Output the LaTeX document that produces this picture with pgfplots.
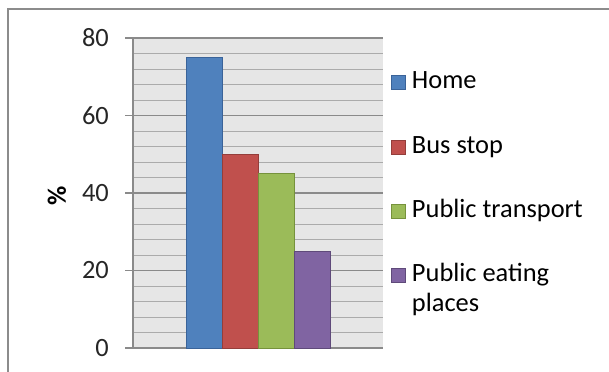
\documentclass[border=0pt]{standalone}
\usepackage{pgfplots}
\pgfplotsset{compat=1.18}
\usepackage{fontspec}
\setmainfont{Carlito}
\definecolor{cblue}{HTML}{4F81BD}
\definecolor{cblued}{HTML}{3A6399}
\definecolor{cred}{HTML}{C0504D}
\definecolor{credd}{HTML}{943E3B}
\definecolor{cgreen}{HTML}{9BBB59}
\definecolor{cgreend}{HTML}{76923C}
\definecolor{cpurple}{HTML}{8064A2}
\definecolor{cpurpled}{HTML}{5F4A7A}
\definecolor{plotbg}{HTML}{E6E6E6}
\definecolor{gmaj}{HTML}{8A8A8A}
\definecolor{gmin}{HTML}{ABABAB}
\definecolor{bordergray}{HTML}{8C8C8C}
\begin{document}
\fontsize{26.5}{31}\selectfont
\begin{tikzpicture}[x=1bp,y=1bp]
\useasboundingbox (0,0) rectangle (609,371);
\begin{scope}
\clip (0,0) rectangle (609,371);
\draw[bordergray, line width=2bp] (8,-20) -- (8,362) -- (640,362);
\end{scope}
\begin{axis}[
  at={(133bp,23bp)}, anchor=south west,
  width=250bp, height=310bp, scale only axis,
  ymin=0, ymax=80, xmin=-1, xmax=1,
  ytick={0,20,...,80}, minor y tick num=4,
  xtick=\empty,
  ybar=0pt, bar width=36bp,
  axis background/.style={fill=plotbg},
  ymajorgrids, yminorgrids,
  major grid style={gmaj, line width=1.2bp},
  minor grid style={gmin, line width=1bp},
  axis x line=bottom, axis y line=left,
  axis line style={-, gmaj, line width=1.5bp},
  tick align=outside, major tick length=8bp, minor tick length=0bp,
  major tick style={gmaj, line width=1.5bp},
  /pgf/number format/assume math mode=true,
  yticklabel style={anchor=east, inner sep=0pt, xshift=-16bp, font=\fontsize{26.5}{31}\selectfont, text=black!85},
  ylabel={\textbf{\%}},
  ylabel style={at={(axis description cs:-0.304,0.49)}, anchor=center, rotate=0, font=\fontsize{26.5}{31}\selectfont},
  legend image code/.code={\draw[#1,line width=0.8bp] (0bp,-7bp) rectangle (14bp,7bp);},
  legend cell align=left,
  legend style={at={(1,1)}, anchor=north west, xshift=5bp, yshift=-28bp, draw=none, fill=none,
    font=\fontsize{26.5}{31}\selectfont,
    nodes={text height=0.7em, text depth=0.25em, inner sep=2bp},
    row sep=35.3bp, column sep=4bp},
]
\addplot[fill=cblue, draw=cblued] coordinates {(0,75)};
\addplot[fill=cred, draw=credd] coordinates {(0,50)};
\addplot[fill=cgreen, draw=cgreend] coordinates {(0,45)};
\addplot[fill=cpurple, draw=cpurpled] coordinates {(0,25)};
\legend{Home, Bus stop, Public transport, {\rlap{\smash{\raisebox{-30bp}{places}}}Public eating}}
\end{axis}
\end{tikzpicture}
\end{document}
